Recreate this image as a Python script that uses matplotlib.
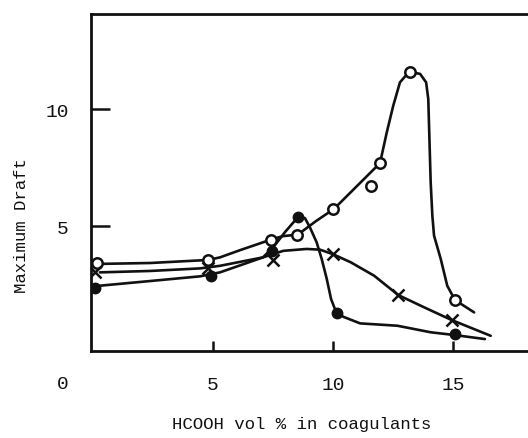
"""Maximum draft vs. HCOOH content of the coagulant bath."""

import matplotlib
matplotlib.use("Agg")
import matplotlib.pyplot as plt

# ─── measured points ─────────────────────────────────────────────────────────
OPEN_X = [0.15, 4.8, 7.4, 8.5, 10.0, 11.6, 11.95, 13.2, 15.1]
OPEN_Y = [3.42, 3.56, 4.41, 4.63, 5.73, 6.72, 7.69, 11.6, 1.84]

CROSS_X = [0.1, 4.8, 7.5, 10.0, 12.7, 14.95]
CROSS_Y = [3.02, 3.19, 3.56, 3.80, 2.05, 0.98]

FILLED_X = [0.1, 4.9, 7.45, 8.55, 10.15, 15.1]
FILLED_Y = [2.34, 2.85, 3.94, 5.37, 1.27, 0.37]

# ─── hand-drawn trend curves ─────────────────────────────────────────────────
OPEN_CURVE_X = [0.17, 2.38, 4.79, 5.29, 6.13, 7.13, 7.38, 7.92, 8.53, 9.29,
                10.04, 11.0, 11.96, 12.24, 12.51, 12.79, 13.17, 13.63, 13.88,
                13.97, 14.01, 14.07, 14.14, 14.21, 14.49, 14.76, 15.08, 15.88]
OPEN_CURVE_Y = [3.38, 3.42, 3.55, 3.66, 3.97, 4.32, 4.41, 4.57, 4.63, 5.21,
                5.73, 6.71, 7.69, 9.0, 10.14, 11.14, 11.59, 11.50, 11.14,
                10.43, 9.0, 6.87, 5.44, 4.59, 3.59, 2.45, 1.84, 1.31]

CROSS_CURVE_X = [0.29, 2.38, 4.46, 5.29, 7.08, 7.93, 8.90, 9.46, 9.99, 10.74,
                 11.71, 12.72, 13.79, 14.95, 16.57]
CROSS_CURVE_Y = [3.02, 3.08, 3.19, 3.30, 3.66, 3.94, 4.02, 3.99, 3.80, 3.45,
                 2.88, 2.05, 1.53, 0.98, 0.31]

FILLED_CURVE_X = [0.29, 2.38, 4.46, 5.29, 7.08, 7.51, 8.0, 8.53, 8.83, 9.04,
                  9.32, 9.53, 9.74, 9.92, 10.15, 10.46, 11.13, 12.68, 14.07,
                  15.08, 16.33]
FILLED_CURVE_Y = [2.45, 2.65, 2.85, 3.02, 3.66, 4.09, 4.74, 5.37, 5.34, 4.94,
                  4.30, 3.59, 2.74, 1.88, 1.27, 1.11, 0.84, 0.74, 0.46,
                  0.34, 0.17]

Y_TICKS = [5, 10]
X_TICKS = [5, 10, 15]

MONO = "Liberation Mono"
INK = "#111111"


def main() -> None:
    fig = plt.figure(figsize=(5.28, 4.39), dpi=100)
    ax = fig.add_axes([91 / 528, 1 - 352 / 439, 1 - 91 / 528, (352 - 15) / 439])

    kw_line = dict(color=INK, lw=1.9, solid_capstyle="round", solid_joinstyle="round")
    ax.plot(OPEN_CURVE_X, OPEN_CURVE_Y, **kw_line)
    ax.plot(CROSS_CURVE_X, CROSS_CURVE_Y, **kw_line)
    ax.plot(FILLED_CURVE_X, FILLED_CURVE_Y, **kw_line)

    ax.plot(OPEN_X, OPEN_Y, "o", ms=7.5, mfc="white", mec=INK, mew=1.8,
            ls="none", zorder=4)
    ax.plot(CROSS_X, CROSS_Y, "x", ms=8, mec=INK, mew=1.8, ls="none", zorder=4)
    ax.plot(FILLED_X, FILLED_Y, "o", ms=7.5, mfc=INK, mec=INK, ls="none", zorder=4)

    ax.set_xlim(-0.083, 18.125)
    ax.set_ylim(-0.34, 14.06)

    for side in ("left", "top", "bottom"):
        ax.spines[side].set_linewidth(2.0)
        ax.spines[side].set_color(INK)
    ax.spines["right"].set_visible(False)

    ax.set_yticks(Y_TICKS)
    ax.set_yticklabels([str(t) for t in Y_TICKS], family=MONO, fontsize=14)
    ax.set_xticks(X_TICKS)
    ax.set_xticklabels([str(t) for t in X_TICKS], family=MONO, fontsize=14)
    ax.tick_params(axis="y", direction="in", length=14, width=1.8, pad=16, colors=INK)
    ax.tick_params(axis="x", direction="in", length=7, width=1.8, pad=18, colors=INK)

    # origin label sits left of the axis, level with the other x labels
    ax.text(-1.25, -1.75, "0", family=MONO, fontsize=14, color=INK,
            ha="center", va="center", clip_on=False)

    fig.text(302 / 528, 1 - 425 / 439, "HCOOH vol % in coagulants",
             family=MONO, fontsize=12.5, color=INK, ha="center", va="center")
    fig.text(22 / 528, 1 - 226 / 439, "Maximum Draft", family=MONO,
             fontsize=12.5, color=INK, rotation=90, ha="center", va="center")

    fig.savefig("out.png", dpi=100)
    plt.close(fig)


if __name__ == "__main__":
    main()
